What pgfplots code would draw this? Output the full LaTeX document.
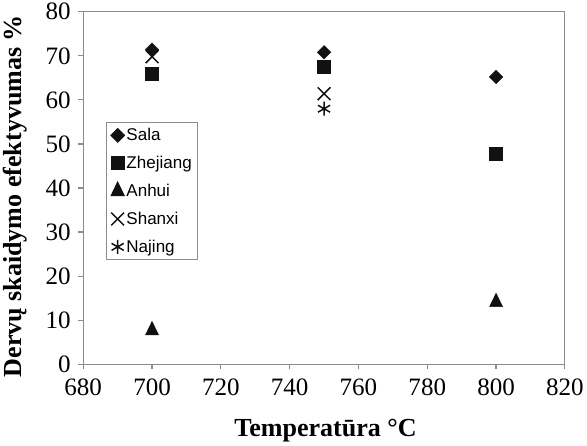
\documentclass[border=0pt]{standalone}
\usepackage{fontspec}
\setmainfont{Liberation Serif}
\setsansfont{Liberation Sans}
\usepackage{pgfplots}
\pgfplotsset{compat=1.18}
\definecolor{axgray}{HTML}{8C8C8C}
\definecolor{mk}{HTML}{111111}
\begin{document}
\begin{tikzpicture}
\begin{axis}[
  scale only axis,
  width=481pt, height=352pt,
  xmin=680, xmax=820, ymin=0, ymax=80,
  xtick={680,700,...,820}, ytick={0,10,...,80},
  axis line style={axgray, line width=1.2pt},
  tick style={axgray, line width=1.2pt},
  tick align=outside, major tick length=5pt,
  xtick pos=bottom, ytick pos=left,
  ticklabel style={font=\fontsize{25}{28}\selectfont},
  xticklabel style={yshift=-6pt},
  yticklabel style={xshift=-4pt},
  /pgf/number format/assume math mode=true,
  xlabel={Temperatūra °C},
  ylabel={Dervų skaidymo efektyvumas \%},
  label style={font=\fontsize{26}{30}\selectfont\bfseries},
  xlabel style={at={(axis description cs:0.503,-0.205)}, anchor=base},
  ylabel style={at={(axis description cs:-0.141,0.477)}, anchor=center},
  legend style={at={(0.048,0.6875)}, anchor=north west, draw=axgray,
    line width=1pt, font=\fontsize{17}{20}\selectfont\sffamily,
    row sep=10pt, inner sep=4pt, cells={anchor=west}},
  legend image code/.code={\draw[mark repeat=2,mark phase=2,#1]
    plot coordinates {(0pt,0pt)(6pt,0pt)(12pt,0pt)};},
]
\addplot[only marks, mk, mark=square*, mark size=4.8, mark options={rotate=45}]
  coordinates {(700,71.4) (750,70.8) (800,65.2)};
\addlegendentry{Sala}
\addplot[only marks, mk, mark=square*, mark size=6.5]
  coordinates {(700,66.0) (750,67.6) (800,47.8)};
\addlegendentry{Zhejiang}
\addplot[only marks, mk, mark=triangle*, mark size=7.5, mark options={yscale=1.2}]
  coordinates {(700,7.7) (800,14.1)};
\addlegendentry{Anhui}
\addplot[only marks, mk, mark=x, mark size=9, mark options={line width=1.5pt}]
  coordinates {(700,69.8) (750,61.4)};
\addlegendentry{Shanxi}
\addplot[only marks, mk, mark=asterisk, mark size=7, mark options={line width=1.5pt}]
  coordinates {(750,58.0)};
\addlegendentry{Najing}
\end{axis}
\end{tikzpicture}
\end{document}
